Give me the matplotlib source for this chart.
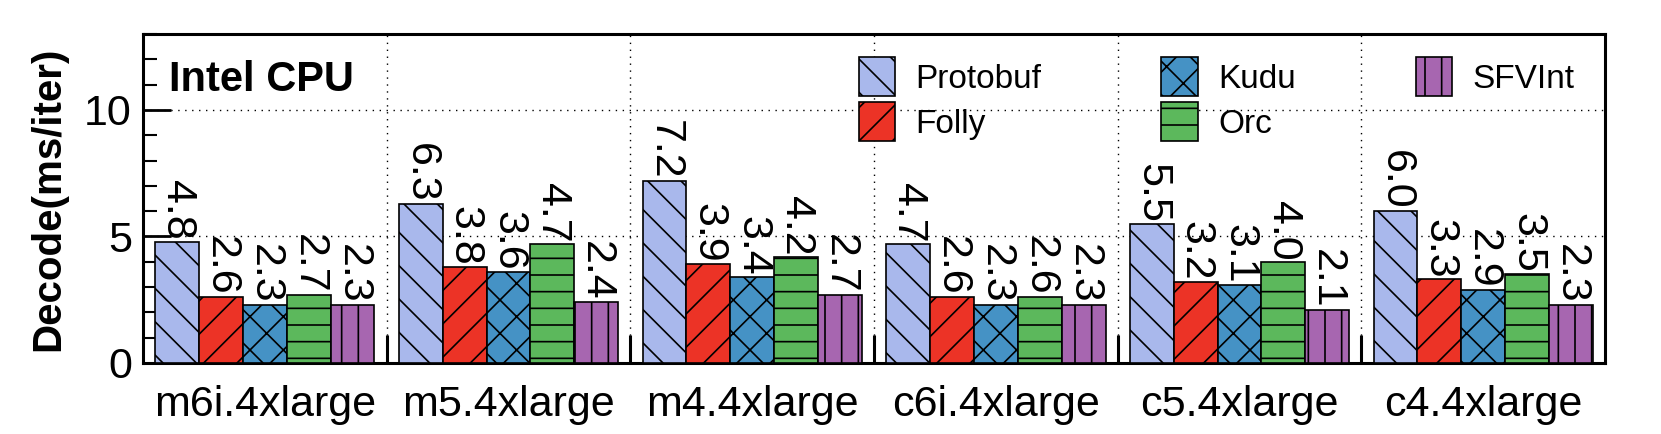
import numpy as np
import matplotlib
matplotlib.use("Agg")
import matplotlib.pyplot as plt
from matplotlib.ticker import MultipleLocator, FixedLocator

plt.rcParams['font.family'] = ['Liberation Sans', 'DejaVu Sans']
plt.rcParams['hatch.linewidth'] = 1.2

# data
instances = ['m6i.4xlarge', 'm5.4xlarge', 'm4.4xlarge', 'c6i.4xlarge', 'c5.4xlarge', 'c4.4xlarge']
methods = ['Protobuf', 'Folly', 'Kudu', 'Orc', 'SFVInt']
protobuf = [4.8, 6.3, 7.2, 4.7, 5.5, 6.0]
folly = [2.6, 3.8, 3.9, 2.6, 3.2, 3.3]
kudu = [2.3, 3.6, 3.4, 2.3, 3.1, 2.9]
orc = [2.7, 4.7, 4.2, 2.6, 4.0, 3.5]
sfvint = [2.3, 2.4, 2.7, 2.3, 2.1, 2.3]

colors = ['#a9b8ec', '#ec3326', '#4592c5', '#5cb85c', '#a766b0']
hatches = ['\\', '/', 'x', '-', '|']

fig = plt.figure(figsize=(16.61, 4.34), dpi=100)
ax = fig.add_axes([0.0861, 0.1636, 0.8802, 0.7581])

x = np.arange(len(instances))
width = 0.18
series = [protobuf, folly, kudu, orc, sfvint]
for i, vals in enumerate(series):
    pos = x + (i - 2) * width
    ax.bar(pos, vals, width, color=colors[i], hatch=hatches[i], edgecolor='black',
           linewidth=1.2, label=methods[i], zorder=3)
    for p, v in zip(pos, vals):
        ax.text(p, v + 0.05, f'{v:.1f}', rotation=270, ha='center', va='bottom',
                fontsize=31, zorder=4)

ax.set_xlim(-0.5, len(instances) - 0.5)
ax.set_ylim(0, 13)
ax.set_xticks(x)
ax.set_xticklabels(instances, fontsize=31)
ax.tick_params(axis='x', which='major', length=0, pad=16)
ax.xaxis.set_minor_locator(FixedLocator(x[:-1] + 0.5))
ax.tick_params(axis='x', which='minor', direction='in', length=20, width=2.2)

ax.set_yticks([0, 5, 10])
ax.yaxis.set_minor_locator(MultipleLocator(1))
ax.tick_params(axis='y', which='major', direction='in', length=20, width=2, labelsize=31, pad=8)
ax.tick_params(axis='y', which='minor', direction='in', length=10, width=1.5)
ax.set_ylabel('Decode(ms/iter)', fontsize=29, fontweight='bold', labelpad=12)

for s in ax.spines.values():
    s.set_linewidth(2.2)

# dotted grid: horizontal at major y, vertical between groups
ax.grid(axis='y', which='major', linestyle=(0, (1, 4)), color='black', linewidth=1, zorder=0)
ax.grid(axis='x', which='minor', linestyle=(0, (1, 4)), color='black', linewidth=1, zorder=0)

ax.text(0.018, 0.86, 'Intel CPU', transform=ax.transAxes, fontsize=30,
        fontweight='bold', ha='left', va='center')

ax.legend(ncol=3, loc='upper right', bbox_to_anchor=(0.995, 1.0), frameon=False,
          fontsize=24, handlelength=1.1, handleheight=1.4, columnspacing=3.6,
          handletextpad=0.6, labelspacing=0.2, borderaxespad=0.3)

fig.savefig('out.png', dpi=100)
